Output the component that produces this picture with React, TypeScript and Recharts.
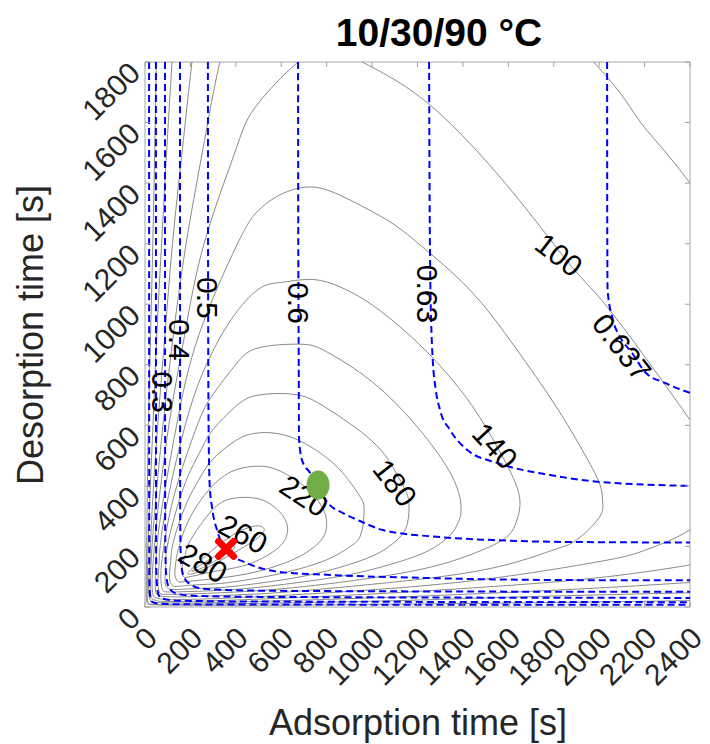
import React from 'react';
import { ComposedChart, Line, Scatter, XAxis, YAxis, ReferenceArea } from 'recharts';

type P = [number, number];

const xTicks = [0, 200, 400, 600, 800, 1000, 1200, 1400, 1600, 1800, 2000, 2200, 2400];
const yTicks = [0, 200, 400, 600, 800, 1000, 1200, 1400, 1600, 1800];

// productivity contours (gray)
const prod20: P[] = [[50,1800],[40,1400],[28,1000],[15,600],[9,300],[6,100],[6,30],[10,12],[40,7],[200,6],[600,6],[1200,10],[1800,15],[2400,21]];
const prod40: P[] = [[125,1850],[119,1800],[95,1500],[73,1200],[52,900],[35,600],[18,300],[12,150],[10,60],[11,25],[15,12],[30,9],[80,8],[300,10],[1000,19],[1500,30],[2000,40],[2400,47]];
const prod60: P[] = [[230,1900],[207,1800],[163,1500],[121,1200],[88,900],[56,600],[30,300],[22,150],[17,100],[16,60],[18,35],[25,20],[50,15],[200,13.5],[500,18.5],[1000,30],[1500,45],[2000,63],[2400,81]];
const prod80: P[] = [[380,1880],[330,1800],[252,1500],[181,1200],[125,900],[79,600],[41,300],[27,150],[24,100],[23,60],[25,40],[30,28],[50,21],[80,18.5],[200,19],[500,26],[1000,43],[1500,66],[2000,97],[2400,139],[2450,150]];
const prod80Right: P[] = [[1960,1830],[1977,1800],[2090,1700],[2183,1600],[2295,1500],[2400,1400],[2450,1350]];
const prod100: P[] = [[2470,330],[2400,255],[2200,187],[2000,150],[1500,92],[1000,57],[600,38],[300,27.5],[150,24.5],[90,25],[50,30],[35,40],[31,80],[36,150],[54,300],[105,600],[175,900],[260,1200],[395,1500],[485,1650],[674,1800],[815,1850],[956,1800],[1255,1658],[1629,1361],[1880,1123],[2070,958],[2400,618],[2470,540]];
const prod120: P[] = [[60,36],[48,48],[45,80],[48,150],[69,300],[139,600],[238,900],[405,1196],[493,1305],[594,1361],[740,1387],[903,1344],[1079,1272],[1211,1196],[1431,1047],[1629,859],[1806,667],[1938,502],[2004,403],[2015,350],[2000,295],[1900,221],[1800,189],[1500,124],[1000,75],[600,48],[400,40],[200,34],[100,34],[60,36]];
const prod140: P[] = [[75,42],[60,55],[58,100],[62,150],[86,300],[177,600],[270,800],[380,950],[500,1050],[600,1072],[727,1082],[850,1060],[1013,991],[1233,849],[1422,684],[1541,542],[1616,436],[1651,353],[1638,287],[1600,236],[1500,193],[1300,140],[1000,96],[600,60],[300,46],[150,42],[75,42]];
const prod160: P[] = [[92,50],[75,60],[70,100],[74,150],[94,250],[140,400],[230,600],[300,703],[400,801],[500,856],[683,868],[800,843],[1000,744],[1200,594],[1350,435],[1392,330],[1380,280],[1350,242],[1300,210],[1200,170],[1000,124],[800,94],[500,65],[300,54],[150,50],[92,50]];
const prod180: P[] = [[110,58],[92,70],[88,100],[92,140],[100,208],[150,350],[200,450],[250,524],[300,586],[400,663],[500,700],[661,702],[800,657],[1000,548],[1100,450],[1150,380],[1163,330],[1150,262],[1100,215],[1000,168],[800,119],[600,89],[400,69],[300,63],[200,60],[150,58],[110,58]];
const prod200: P[] = [[130,68],[112,80],[108,110],[113,150],[120,198],[150,278],[200,370],[250,437],[300,489],[400,550],[500,575],[639,562],[800,493],[900,416],[950,361],[965,320],[950,238],[900,198],[800,156],[600,111],[400,84],[300,76],[200,72],[160,69],[130,68]];
const prod220: P[] = [[150,82],[135,95],[132,120],[138,160],[150,200],[200,298],[300,402],[400,453],[500,465],[586,452],[700,400],[780,330],[800,275],[780,225],[700,175],[600,141],[500,118],[400,103],[300,93],[220,87],[150,82]];
const prod240: P[] = [[175,97],[163,110],[165,140],[180,180],[200,220],[300,323],[400,360],[515,354],[600,308],[628,260],[600,205],[500,155],[400,130],[300,117],[230,105],[175,97]];
const prod260: P[] = [[190,110],[195,118],[240,150],[300,190],[370,230],[440,258],[500,268],[525,255],[500,230],[440,200],[370,170],[300,140],[240,118],[200,108],[190,110]];
const prod280: P[] = [[205,118],[230,132],[280,155],[330,178],[375,198],[395,200],[380,185],[330,162],[280,140],[230,122],[205,118]];

// purity contours (blue dashed)
const pur01: P[] = [[18,1800],[18.5,300],[19,100],[22,40],[30,18],[50,12],[150,9],[600,8],[2400,7.5]];
const pur02: P[] = [[48,1800],[48.5,400],[49,150],[53,70],[60,40],[80,27],[150,21],[500,18],[2400,16]];
const pur03: P[] = [[88,1800],[88.5,600],[89,250],[92,120],[100,75],[115,55],[150,42],[250,36],[600,33],[2400,30]];
const pur04: P[] = [[154,1800],[154.5,800],[155,300],[157,180],[163,122],[178,90],[200,75],[242,62],[330,57],[500,54],[1000,52],[2400,50]];
const pur05: P[] = [[277,1800],[278,1000],[280,600],[285,400],[295,330],[317,254],[350,197],[390,166],[440,148],[493,132],[594,116],[815,106],[1233,96],[1819,89],[2400,88]];
const pur06: P[] = [[674,1800],[675,1200],[677,800],[678,560],[691,486],[727,443],[757,403],[806,343],[872,310],[947,284],[1048,254],[1299,231],[1533,221],[1841,215],[2400,213]];
const pur063: P[] = [[1251,1800],[1253,1400],[1256,1100],[1262,900],[1268,806],[1280,720],[1299,651],[1343,585],[1418,519],[1550,476],[1783,436],[2004,413],[2400,400]];
const pur0637: P[] = [[2035,1800],[2035.5,1300],[2037,1047],[2061,947],[2092,892],[2145,839],[2202,776],[2290,740],[2400,707]];

// contour labels
const labelText = ['0.3', '0.4', '0.5', '0.6', '0.63', '0.637', '100', '140', '180', '220', '260', '280'];
const labelX = [79, 154, 277, 674, 1246, 2100, 1823, 1541, 1101, 700, 432, 255];
const labelY = [710, 882, 1021, 1004, 1034, 858, 1163, 532, 410, 367, 241, 145];
const labelAngle = [90, 90, 90, 90, 90, 52, 38, 47, 52, 33, 28, 30];

// optimum markers
const markerKind = ['max', 'constrained'];
const markerX = [357, 762];
const markerY = [192, 403];

const toPts = (arr: P[]) => arr.map(([x, y]) => ({ x, y }));

const grayContours = [prod20, prod40, prod60, prod80, prod80Right, prod100, prod120, prod140, prod160, prod180, prod200, prod220, prod240, prod260, prod280];
const purityContours = [pur01, pur02, pur03, pur04, pur05, pur06, pur063, pur0637];

const labelData = labelText.map((t, i) => ({ x: labelX[i], y: labelY[i], text: t, angle: labelAngle[i] }));
const markerData = markerKind.map((k, i) => ({ x: markerX[i], y: markerY[i], kind: k }));

const FONT = '"Liberation Sans", Arial, Helvetica, sans-serif';
const PLOT_TOP = 62;
const PLOT_BOTTOM = 607;
const PLOT_LEFT = 145;
const PLOT_RIGHT = 690;
const TICK_COLOR = '#a0a0a0';

const XTick = (props: any) => {
  const { x, payload } = props;
  const lx = x + 14;
  const ly = 640;
  return (
    <g>
      <line x1={x} y1={PLOT_BOTTOM} x2={x} y2={PLOT_BOTTOM - 5} stroke={TICK_COLOR} />
      <line x1={x} y1={PLOT_TOP} x2={x} y2={PLOT_TOP + 5} stroke={TICK_COLOR} />
      <text x={lx} y={ly} transform={`rotate(-45 ${lx} ${ly})`} textAnchor="end" fontFamily={FONT} fontSize={30} fill="#262626">
        {payload.value}
      </text>
    </g>
  );
};

const YTick = (props: any) => {
  const { y, payload } = props;
  const lx = 142;
  const ly = y + 13;
  return (
    <g>
      <line x1={PLOT_LEFT} y1={y} x2={PLOT_LEFT + 5} y2={y} stroke={TICK_COLOR} />
      <line x1={PLOT_RIGHT} y1={y} x2={PLOT_RIGHT - 5} y2={y} stroke={TICK_COLOR} />
      <text x={lx} y={ly} transform={`rotate(-45 ${lx} ${ly})`} textAnchor="end" fontFamily={FONT} fontSize={30} fill="#262626">
        {payload.value}
      </text>
    </g>
  );
};

const ContourLabel = (props: any) => {
  const { cx, cy, payload } = props;
  if (cx == null || cy == null) return null;
  return (
    <text x={cx} y={cy} transform={`rotate(${payload.angle} ${cx} ${cy})`} textAnchor="middle" dominantBaseline="central" fontFamily={FONT} fontSize={30} fill="#000">
      {payload.text}
    </text>
  );
};

const Marker = (props: any) => {
  const { cx, cy, payload } = props;
  if (cx == null || cy == null) return null;
  if (payload.kind === 'constrained') {
    return <ellipse cx={cx} cy={cy} rx={11.5} ry={14.5} fill="#70ad47" />;
  }
  const s = 7.5;
  return (
    <g stroke="#ff0000" strokeWidth={7} strokeLinecap="round">
      <line x1={cx - s} y1={cy - s} x2={cx + s} y2={cy + s} />
      <line x1={cx - s} y1={cy + s} x2={cx + s} y2={cy - s} />
    </g>
  );
};

export default function App() {
  return (
    <div style={{ position: 'absolute', left: 0, top: 0, width: 710, height: 744, background: '#fff' }}>
      <ComposedChart width={710} height={744} margin={{ top: 62, right: 20, bottom: 77, left: 85 }}>
        <XAxis dataKey="x" type="number" domain={[0, 2400]} ticks={xTicks} interval={0} allowDataOverflow axisLine={false} tickLine={false} tick={<XTick />} height={60} />
        <YAxis dataKey="y" type="number" domain={[0, 1800]} ticks={yTicks} interval={0} allowDataOverflow axisLine={false} tickLine={false} tick={<YTick />} width={60} />
        <ReferenceArea x1={0} x2={2400} y1={0} y2={1800} fill="none" stroke="#a6a6a6" strokeWidth={1} />
        {grayContours.map((c, i) => (
          <Line key={`g${i}`} data={toPts(c)} dataKey="y" type="natural" stroke="#8a8a8a" strokeWidth={1} dot={false} activeDot={false} isAnimationActive={false} />
        ))}
        {purityContours.map((c, i) => (
          <Line key={`b${i}`} data={toPts(c)} dataKey="y" type="monotoneX" stroke="#0000ff" strokeWidth={2} strokeDasharray="7 4" dot={false} activeDot={false} isAnimationActive={false} />
        ))}
        <Scatter data={labelData} dataKey="y" shape={ContourLabel} isAnimationActive={false} />
        <Scatter data={markerData} dataKey="y" shape={Marker} isAnimationActive={false} />
      </ComposedChart>
      <svg width={710} height={744} style={{ position: 'absolute', left: 0, top: 0, pointerEvents: 'none' }}>
        <text x={439} y={46} textAnchor="middle" fontFamily={FONT} fontWeight="bold" fontSize={39} fill="#000">10/30/90 °C</text>
        <text x={418} y={735} textAnchor="middle" fontFamily={FONT} fontSize={36} fill="#262626">Adsorption time [s]</text>
        <text x={43} y={335} transform="rotate(-90 43 335)" textAnchor="middle" fontFamily={FONT} fontSize={36} fill="#262626">Desorption time [s]</text>
      </svg>
    </div>
  );
}
